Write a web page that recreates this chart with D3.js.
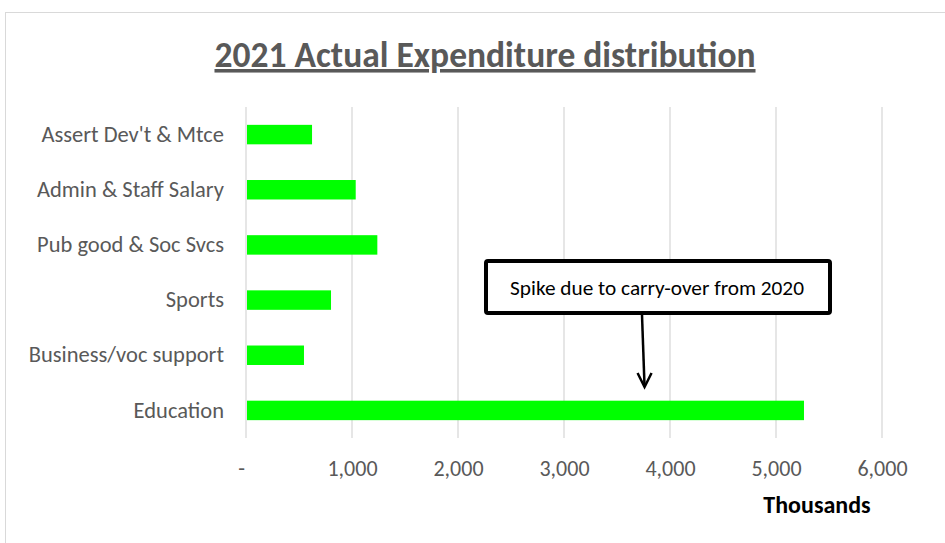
<!DOCTYPE html>
<html>
<head>
<meta charset="utf-8">
<script src="https://cdn.jsdelivr.net/npm/d3@7"></script>
<style>
  body { margin: 0; background: #fff; }
  svg { display: block; font-family: Carlito, Lato, "Open Sans", sans-serif; }
</style>
</head>
<body>
<div id="chart"></div>
<script>
// data (thousands)
const categories = ["Assert Dev't & Mtce", "Admin & Staff Salary", "Pub good & Soc Svcs", "Sports", "Business/voc support", "Education"];
const values = [623, 1035, 1239, 802, 547, 5264];
const xTicks = [0, 1000, 2000, 3000, 4000, 5000, 6000];
const title = "2021 Actual Expenditure distribution";
const note = "Spike due to carry-over from 2020";

const width = 945, height = 543;
const margin = { top: 107, right: 63, bottom: 105, left: 246 };

const svg = d3.select("#chart").append("svg")
    .attr("width", width)
    .attr("height", height);

// outer chart frame
svg.append("rect")
    .attr("x", 5.5).attr("y", 12.5)
    .attr("width", width).attr("height", height)
    .attr("fill", "none")
    .attr("stroke", "#d9d9d9");

const x = d3.scaleLinear()
    .domain([0, 6000])
    .range([margin.left, width - margin.right]);

const y = d3.scaleBand()
    .domain(categories)
    .range([margin.top, height - margin.bottom])
    .paddingInner(0.647)
    .paddingOuter(0.3235);

// gridlines
svg.append("g")
    .selectAll("line")
    .data(xTicks)
    .join("line")
    .attr("x1", d => x(d)).attr("x2", d => x(d))
    .attr("y1", margin.top).attr("y2", height - margin.bottom)
    .attr("stroke", "#d9d9d9")
    .attr("stroke-width", 1.3);

// bars
svg.append("g")
    .selectAll("rect")
    .data(values)
    .join("rect")
    .attr("x", x(0) + 1)
    .attr("y", (d, i) => y(categories[i]))
    .attr("width", d => x(d) - x(0) - 1)
    .attr("height", y.bandwidth())
    .attr("fill", "#00ff00");

// y axis labels
const yAxis = d3.axisLeft(y).tickSize(0).tickPadding(22);
svg.append("g")
    .attr("transform", `translate(${margin.left},0)`)
    .call(yAxis)
    .call(g => g.select(".domain").remove())
    .selectAll("text")
    .attr("font-size", 22.5)
    .attr("font-family", "Carlito, Lato, sans-serif")
    .attr("fill", "#595959");

// x axis labels
const xAxis = d3.axisBottom(x)
    .tickValues(xTicks)
    .tickSize(0)
    .tickPadding(22)
    .tickFormat(d => d === 0 ? "-" : d3.format(",")(d));
svg.append("g")
    .attr("transform", `translate(0,${height - margin.bottom})`)
    .call(xAxis)
    .call(g => g.select(".domain").remove())
    .selectAll("text")
    .attr("font-size", 22)
    .attr("font-family", "Carlito, Lato, sans-serif")
    .attr("fill", "#595959")
    .attr("dx", d => d === 0 ? -5 : 0);

// axis unit label
svg.append("text")
    .attr("x", 817).attr("y", 513)
    .attr("text-anchor", "middle")
    .attr("font-size", 24)
    .attr("font-weight", "bold")
    .attr("fill", "#000")
    .text("Thousands");

// title
svg.append("text")
    .attr("x", 485).attr("y", 67)
    .attr("text-anchor", "middle")
    .attr("font-size", 35.5)
    .attr("font-weight", "bold")
    .attr("fill", "#595959")
    .attr("text-decoration", "underline")
    .text(title);

// annotation box + arrow
const boxX = 486, boxY = 261, boxW = 344, boxH = 52;
svg.append("rect")
    .attr("x", boxX).attr("y", boxY)
    .attr("width", boxW).attr("height", boxH)
    .attr("rx", 2)
    .attr("fill", "#fff")
    .attr("stroke", "#000")
    .attr("stroke-width", 4);

svg.append("text")
    .attr("x", boxX + boxW / 2 - 1).attr("y", boxY + boxH / 2 + 8)
    .attr("text-anchor", "middle")
    .attr("font-size", 21.3)
    .attr("fill", "#000")
    .text(note);

const tipX = x(3760), tipY = 387;
svg.append("line")
    .attr("x1", 642).attr("y1", boxY + boxH + 2)
    .attr("x2", tipX).attr("y2", tipY)
    .attr("stroke", "#000").attr("stroke-width", 2.5);
svg.append("path")
    .attr("d", `M${tipX - 7},${tipY - 14} L${tipX},${tipY} L${tipX + 7},${tipY - 14}`)
    .attr("fill", "none")
    .attr("stroke", "#000").attr("stroke-width", 2.5);
</script>
</body>
</html>
